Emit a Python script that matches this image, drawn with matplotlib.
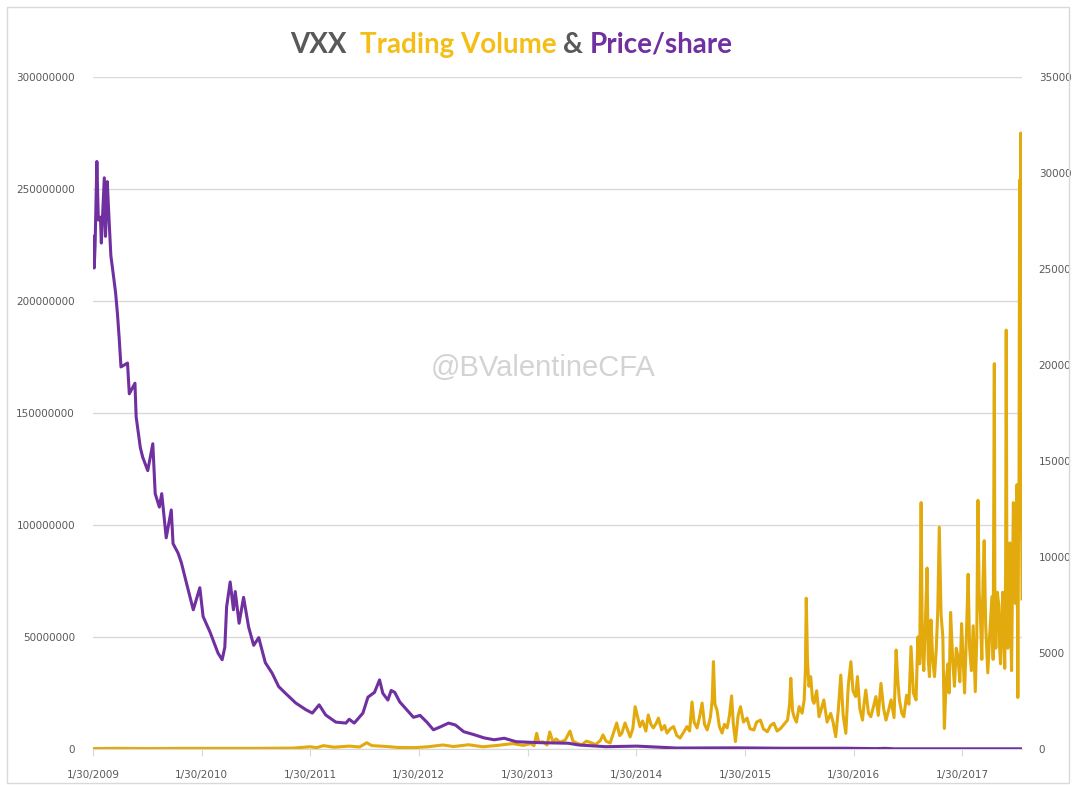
"""
VXX trading volume (left axis) and price/share (right axis), 2009-2017.
"""

import pandas as pd
import matplotlib.pyplot as plt
from matplotlib.ticker import MultipleLocator, FuncFormatter
from matplotlib.patches import Rectangle

# Trading volume, millions of shares (left axis)
vol_dates = [
    # 2009-2012
    "2009-01-30", "2009-04-15", "2009-08-01", "2009-12-01", "2010-04-01", "2010-08-01",
    "2010-12-01", "2011-01-30", "2011-02-20", "2011-03-16", "2011-04-20", "2011-06-10",
    "2011-07-15", "2011-08-08", "2011-08-25", "2011-10-05", "2011-11-20", "2012-01-15",
    "2012-03-01", "2012-04-20", "2012-05-25", "2012-07-15", "2012-09-01", "2012-10-20",
    "2012-12-10",
    # 2013
    "2013-01-15", "2013-02-09", "2013-02-20", "2013-03-01", "2013-03-08", "2013-03-22",
    "2013-04-05", "2013-04-14", "2013-04-25", "2013-05-05", "2013-05-18", "2013-06-05",
    "2013-06-21", "2013-07-01", "2013-07-13", "2013-07-30", "2013-08-15", "2013-08-27",
    "2013-09-15", "2013-10-01", "2013-10-10", "2013-10-20", "2013-11-03", "2013-11-15",
    "2013-11-25", "2013-12-05", "2013-12-12", "2013-12-23",
    # 2014
    "2014-01-02", "2014-01-09", "2014-01-18", "2014-01-26", "2014-02-04", "2014-02-11",
    "2014-02-20", "2014-03-03", "2014-03-11", "2014-03-20", "2014-03-28", "2014-04-07",
    "2014-04-14", "2014-04-25", "2014-05-05", "2014-05-13", "2014-05-24", "2014-06-04",
    "2014-06-15", "2014-06-26", "2014-07-08", "2014-07-19", "2014-07-28", "2014-08-05",
    "2014-08-12", "2014-08-22", "2014-08-30", "2014-09-08", "2014-09-16", "2014-09-25",
    "2014-10-02", "2014-10-06", "2014-10-12", "2014-10-16", "2014-10-21", "2014-10-28",
    "2014-11-05", "2014-11-14", "2014-11-22", "2014-12-01", "2014-12-09", "2014-12-16",
    "2014-12-22", "2014-12-29",
    # 2015
    "2015-01-07", "2015-01-15", "2015-01-25", "2015-02-06", "2015-02-16", "2015-03-01",
    "2015-03-10", "2015-03-23", "2015-04-02", "2015-04-15", "2015-04-26", "2015-05-07",
    "2015-05-18", "2015-05-30", "2015-06-10", "2015-06-22", "2015-06-29", "2015-07-03",
    "2015-07-09", "2015-07-14", "2015-07-22", "2015-07-31", "2015-08-10", "2015-08-17",
    "2015-08-21", "2015-08-24", "2015-08-28", "2015-09-02", "2015-09-08", "2015-09-14",
    "2015-09-19", "2015-09-28", "2015-10-06", "2015-10-14", "2015-10-22", "2015-11-02",
    "2015-11-14", "2015-11-22", "2015-12-01", "2015-12-10", "2015-12-18", "2015-12-26",
    # 2016
    "2016-01-04", "2016-01-12", "2016-01-21", "2016-01-28", "2016-02-06", "2016-02-12",
    "2016-02-20", "2016-02-29", "2016-03-05", "2016-03-11", "2016-03-20", "2016-03-28",
    "2016-04-06", "2016-04-14", "2016-04-22", "2016-05-01", "2016-05-10", "2016-05-18",
    "2016-05-26", "2016-06-04", "2016-06-14", "2016-06-21", "2016-06-27", "2016-07-02",
    "2016-07-10", "2016-07-17", "2016-07-26", "2016-08-03", "2016-08-10", "2016-08-18",
    "2016-08-27", "2016-09-02", "2016-09-08", "2016-09-13", "2016-09-17", "2016-09-22",
    "2016-09-27", "2016-10-03", "2016-10-07", "2016-10-11", "2016-10-16", "2016-10-22",
    "2016-10-28", "2016-11-03", "2016-11-08", "2016-11-13", "2016-11-19", "2016-11-25",
    "2016-11-30", "2016-12-06", "2016-12-12", "2016-12-16", "2016-12-21", "2016-12-28",
    # 2017
    "2017-01-03", "2017-01-09", "2017-01-15", "2017-01-21", "2017-01-27", "2017-02-01",
    "2017-02-06", "2017-02-12", "2017-02-18", "2017-02-23", "2017-03-01", "2017-03-07",
    "2017-03-14", "2017-03-19", "2017-03-23", "2017-03-27", "2017-03-31", "2017-04-05",
    "2017-04-09", "2017-04-13", "2017-04-18", "2017-04-25", "2017-05-01", "2017-05-09",
    "2017-05-13", "2017-05-17", "2017-05-19", "2017-05-22", "2017-05-27", "2017-06-01",
    "2017-06-04", "2017-06-07", "2017-06-11", "2017-06-14", "2017-06-18", "2017-06-21",
    "2017-06-24", "2017-06-26", "2017-06-28", "2017-07-01", "2017-07-05", "2017-07-08",
    "2017-07-11", "2017-07-14", "2017-07-17", "2017-07-20", "2017-07-24", "2017-07-27",
    "2017-07-30", "2017-08-01", "2017-08-03", "2017-08-04", "2017-08-06", "2017-08-08",
    "2017-08-10", "2017-08-12", "2017-08-14", "2017-08-16", "2017-08-18",
]
vol_millions = [
    # 2009-2012
    0.2, 0.3, 0.2, 0.3, 0.3, 0.3,
    0.4, 1.0, 0.6, 1.5, 0.8, 1.3,
    0.9, 2.8, 1.5, 1.2, 0.7, 0.6,
    1.0, 1.8, 1.1, 1.9, 1.0, 1.6,
    2.4,
    # 2013
    1.6, 2.4, 1.5, 7.0, 3.0, 3.2,
    1.8, 7.6, 3.0, 4.5, 3.0, 4.0,
    8.0, 3.5, 2.7, 1.8, 3.5, 3.0,
    2.0, 3.8, 6.3, 3.5, 2.7, 7.5,
    11.6, 6.0, 7.0, 11.6,
    # 2014
    8.0, 5.4, 9.0, 18.9, 14.0, 10.0,
    12.5, 8.0, 15.2, 11.0, 9.4, 11.5,
    13.8, 8.5, 10.5, 7.1, 9.0, 10.0,
    6.0, 4.9, 7.5, 10.0, 8.0, 21.0,
    12.0, 9.4, 14.0, 20.5, 11.0, 8.5,
    12.0, 14.4, 22.0, 39.0, 20.0, 17.4,
    10.0, 7.1, 11.0, 9.4, 15.0, 23.7,
    11.0, 3.3,
    # 2015
    15.0, 18.9, 12.0, 13.8, 9.0, 8.5,
    12.0, 12.9, 9.0, 7.7, 10.5, 11.5,
    8.0, 9.2, 11.0, 12.9, 20.0, 31.6,
    17.0, 14.4, 12.0, 18.9, 16.0, 21.9,
    35.0, 67.3, 40.0, 28.0, 32.3, 22.0,
    20.4, 26.0, 14.4, 18.0, 21.9, 12.0,
    15.9, 12.0, 5.5, 18.0, 33.0, 15.0,
    # 2016
    7.0, 28.0, 39.0, 26.0, 23.4, 32.3,
    18.0, 12.9, 20.0, 26.3, 16.0, 14.4,
    19.0, 23.4, 15.0, 29.3, 18.0, 12.9,
    17.0, 21.9, 14.0, 44.2, 30.0, 21.9,
    16.0, 14.4, 24.0, 20.0, 45.7, 25.0,
    21.9, 50.0, 38.0, 110.0, 45.0, 35.0,
    55.0, 80.8, 40.0, 32.3, 57.6, 40.0,
    32.3, 45.0, 62.0, 99.0, 60.0, 50.0,
    9.2, 30.0, 38.0, 25.0, 61.0, 40.0,
    # 2017
    28.0, 45.0, 41.0, 30.0, 56.0, 40.0,
    25.0, 50.0, 78.0, 45.0, 35.0, 55.0,
    25.6, 50.0, 111.0, 70.0, 60.6, 40.0,
    75.0, 93.0, 55.0, 34.0, 50.0, 68.0,
    40.0, 172.0, 60.0, 45.0, 70.0, 64.0,
    45.0, 38.0, 55.0, 70.0, 50.0, 36.0,
    80.0, 187.0, 90.0, 45.0, 70.0, 92.0,
    55.0, 35.0, 75.0, 110.0, 85.0, 65.0,
    100.0, 118.0, 60.0, 23.0, 90.0, 120.0,
    254.0, 115.0, 275.0, 120.0, 67.0,
]

# Price per share, split-adjusted (right axis)
price_dates = [
    "2009-01-30", "2009-02-03", "2009-02-06", "2009-02-12", "2009-02-17", "2009-02-24",
    "2009-02-27", "2009-03-09", "2009-03-13", "2009-03-19", "2009-03-25", "2009-03-31",
    "2009-04-10", "2009-04-16", "2009-04-22", "2009-04-28", "2009-05-04", "2009-05-26",
    "2009-06-01", "2009-06-20", "2009-06-24", "2009-07-08", "2009-07-16", "2009-08-02",
    "2009-08-19", "2009-08-27", "2009-09-10", "2009-09-18", "2009-10-03", "2009-10-20",
    "2009-10-26", "2009-11-12", "2009-11-23", "2009-12-10", "2010-01-02", "2010-01-24",
    "2010-02-04", "2010-02-27", "2010-03-26", "2010-04-09", "2010-04-18", "2010-04-24",
    "2010-05-06", "2010-05-17", "2010-05-23", "2010-06-05", "2010-06-20", "2010-07-07",
    "2010-07-24", "2010-08-10", "2010-09-01", "2010-09-24", "2010-10-16", "2010-11-08",
    "2010-12-12", "2011-01-15", "2011-02-06", "2011-03-01", "2011-03-23", "2011-04-26",
    "2011-05-30", "2011-06-10", "2011-06-27", "2011-07-26", "2011-08-12", "2011-09-03",
    "2011-09-20", "2011-10-01", "2011-10-18", "2011-10-29", "2011-11-10", "2011-11-27",
    "2011-12-20", "2012-01-12", "2012-02-03", "2012-02-26", "2012-03-19", "2012-04-11",
    "2012-05-09", "2012-06-01", "2012-06-29", "2012-08-02", "2012-09-05", "2012-10-09",
    "2012-11-12", "2012-12-22", "2013-03-10", "2013-06-15", "2013-07-20", "2013-10-20",
    "2014-02-01", "2014-06-15", "2015-01-01", "2015-06-01", "2016-01-01", "2016-04-15",
    "2016-05-15", "2016-06-15", "2017-01-01", "2017-08-18",
]
price_values = [
    26700, 25050, 26200, 30600, 27550, 27700,
    26350, 29750, 26700, 29550, 27550, 25700,
    24500, 23750, 22700, 21400, 19900, 20100,
    18500, 19050, 17300, 15700, 15200, 14500,
    15900, 13300, 12600, 13300, 11000, 12450,
    10700, 10200, 9700, 8650, 7250, 8400,
    6900, 6100, 5000, 4650, 5300, 7400,
    8700, 7250, 8200, 6550, 7900, 6350,
    5400, 5800, 4500, 3950, 3250, 2900,
    2400, 2050, 1870, 2300, 1770, 1400,
    1350, 1550, 1350, 1870, 2700, 2950,
    3600, 2900, 2550, 3050, 2950, 2450,
    2050, 1650, 1750, 1400, 1000, 1150,
    1350, 1250, 900, 750, 580, 480,
    560, 380, 330, 300, 210, 120,
    150, 50, 60, 40, 40, 20,
    35, 10, 10, 10,
]

tick_dates = ["2009-01-30", "2010-01-30", "2011-01-30", "2012-01-30", "2013-01-30",
              "2014-01-30", "2015-01-30", "2016-01-30", "2017-01-30"]

GOLD = "#E2AA0C"
GOLD_TITLE = "#F5BE16"
PURPLE = "#7030A0"
DARK = "#595959"
GRID = "#D9D9D9"

W, H = 1073, 785
fig = plt.figure(figsize=(W / 100, H / 100), dpi=100)
fig.patches.append(Rectangle((7 / W, 2 / H), 1062 / W, 776 / H, transform=fig.transFigure,
                             fill=False, ec=GRID, lw=1))

ax = fig.add_axes([93 / W, 36 / H, (1022 - 93) / W, 672 / H])
ax2 = ax.twinx()

vd = pd.to_datetime(vol_dates)
pdates = pd.to_datetime(price_dates)
vol = [v * 1e6 for _, v in zip(vd, vol_millions, strict=True)]
ax.plot(vd, vol, color=GOLD, lw=2.2, zorder=3)
ax2.plot(pdates, price_values, color=PURPLE, lw=2.2, zorder=3)

ax.set_xlim(vd[0], vd[-1])
ax.set_ylim(0, 300e6)
ax2.set_ylim(0, 35000)
ax.yaxis.set_major_locator(MultipleLocator(50e6))
ax2.yaxis.set_major_locator(MultipleLocator(5000))
ax.yaxis.set_major_formatter(FuncFormatter(lambda v, p: f"{int(round(v))}"))
ax2.yaxis.set_major_formatter(FuncFormatter(lambda v, p: f"{int(round(v))}"))

ticks = pd.to_datetime(tick_dates)
ax.set_xticks(ticks)
ax.set_xticklabels([f"{d.month}/{d.day}/{d.year}" for d in ticks])

ax.grid(axis="y", color=GRID, lw=1)
ax.set_axisbelow(True)
for a in (ax, ax2):
    for s in a.spines.values():
        s.set_visible(False)
ax.spines["bottom"].set_visible(True)
ax.spines["bottom"].set_color(GRID)

ax.tick_params(axis="y", length=0, pad=13, labelsize=7.5, labelcolor=DARK)
ax2.tick_params(axis="y", length=0, pad=12, labelsize=7.5, labelcolor=DARK)
ax.tick_params(axis="x", length=5, color=GRID, pad=10, labelsize=7.5, labelcolor=DARK)

# watermark
fig.text(543 / W, 1 - 368 / H, "@BValentineCFA", ha="center", va="center",
         fontsize=21, color="#D3D3D3", family="Liberation Sans")

# multi-coloured title
title_parts = [("VXX  ", DARK), ("Trading Volume ", GOLD_TITLE), ("& ", DARK), ("Price/share", PURPLE)]
renderer = fig.canvas.get_renderer()
x = 290 / W
for s, c in title_parts:
    t = fig.text(x, 1 - 45 / H, s, ha="left", va="center", fontsize=20, fontweight="bold",
                 color=c, family=["Liberation Sans Narrow", "Lato", "DejaVu Sans"])
    bb = t.get_window_extent(renderer=renderer)
    x = bb.x1 / fig.bbox.width

fig.savefig("out.png", dpi=100)
